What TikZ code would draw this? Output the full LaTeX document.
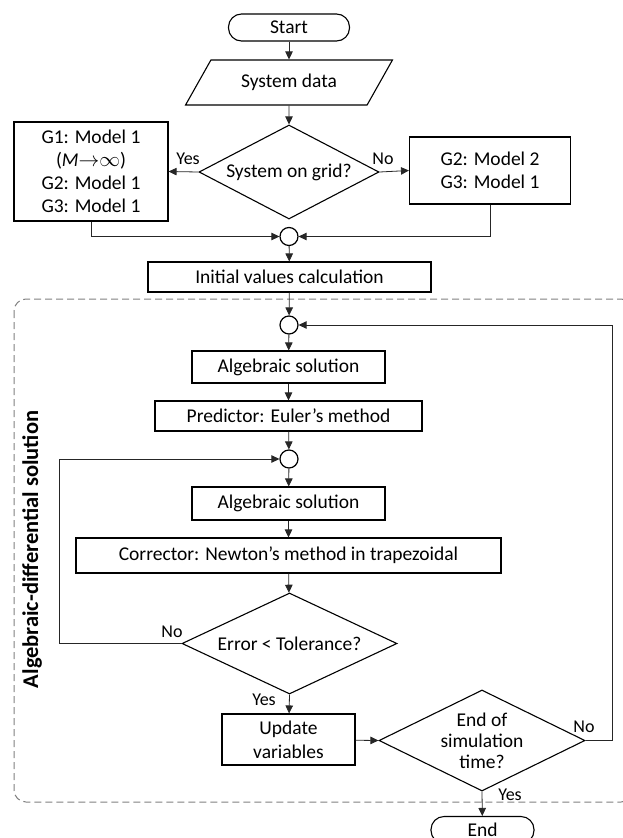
\documentclass[tikz,border=0pt]{standalone}
\usepackage{fontspec}
\setmainfont{Carlito}
\usetikzlibrary{shapes.geometric, arrows.meta, positioning}

\begin{document}
\begin{tikzpicture}[
    x=1pt, y=-1pt,
    font=\fontsize{19.5}{23}\selectfont,
    >={Triangle[length=8pt, width=7.5pt]},
    block/.style = {rectangle, draw=black, line width=1.1pt, fill=white, align=center, inner sep=0pt},
    term/.style = {rectangle, rounded corners=13pt, draw=black, line width=1.1pt, minimum width=121pt, minimum height=27pt, inner sep=0pt},
    iobox/.style = {trapezium, trapezium left angle=47, trapezium right angle=133, trapezium stretches=true, draw=black, line width=1.1pt, minimum width=207pt, minimum height=45pt, inner sep=0pt},
    decision/.style = {diamond, draw=black, line width=1.1pt, align=center, inner sep=0pt, shape aspect=2},
    joint/.style = {circle, draw=black, line width=1.2pt, minimum size=18pt, inner sep=0pt},
    conn/.style = {->, line width=0.8pt, black!85},
    lbl/.style = {font=\fontsize{18}{21}\selectfont, inner sep=0pt}
]
\useasboundingbox (0,0) rectangle (623,838);

% dashed frame of the solver loop
\draw[gray, dash pattern=on 7pt off 4pt, line width=1pt, rounded corners=12pt] (14,299) rectangle (633,802);
\node[font=\fontsize{22.5}{26}\selectfont\bfseries, rotate=90] (adsol) at (32, 549.5) {Algebraic-differential solution};

\node [term] (start) at (289, 27.5) {Start};
\node [iobox] (data) at (289, 82.5) {System data};
\node [decision, minimum width=180pt, minimum height=94pt] (grid) at (289, 172) {System on grid?};

\node [block, minimum width=154pt, minimum height=99pt] (m1) at (91, 171.5) {G1: Model 1\\(\textit{M}$\mathord{\rightarrow}\mathord{\infty}$)\\G2: Model 1\\G3: Model 1};
\node [block, minimum width=161pt, minimum height=67pt] (m2) at (490, 170.5) {G2: Model 2\\G3: Model 1};

\node [joint] (j1) at (289, 236.5) {};
\node [block, minimum width=283pt, minimum height=30pt] (init) at (289.5, 277) {Initial values calculation};

\node [joint] (j2) at (289, 325) {};
\node [block, minimum width=193pt, minimum height=32pt] (alg1) at (288.5, 367) {Algebraic solution};
\node [block, minimum width=267pt, minimum height=30pt] (pred) at (288.5, 416) {Predictor: Euler’s method};

\node [joint] (j3) at (289, 459) {};
\node [block, minimum width=193pt, minimum height=33pt] (alg2) at (288.5, 503.5) {Algebraic solution};
\node [block, minimum width=425pt, minimum height=35pt] (corr) at (288.5, 555.5) {Corrector: Newton’s method in trapezoidal};

\node [decision, minimum width=215pt, minimum height=101pt] (err) at (289.5, 643.5) {Error < Tolerance?};
\node [block, minimum width=133pt, minimum height=51pt, font=\fontsize{19.5}{24}\selectfont] (upd) at (288.5, 739.5) {Update\\variables};
\node [decision, minimum width=206pt, minimum height=101pt, font=\fontsize{19.5}{21}\selectfont] (endsim) at (482, 740.5) {End of\\simulation\\time?};

\node [term, minimum width=103pt] (end) at (482.5, 830) {End};

\coordinate (lft) at (59, 643.5);
\coordinate (rgt) at (612, 740.5);

\node [lbl] (yes1) at (188, 159) {Yes};
\node [lbl] (no1) at (383, 159) {No};
\node [lbl] (no2) at (172, 632) {No};
\node [lbl] (yes2) at (264, 700) {Yes};
\node [lbl] (no3) at (584, 727) {No};
\node [lbl] (yes3) at (510, 795) {Yes};

\draw[conn] (start) -- (data);
\draw[conn] (data) -- (grid);
\draw[conn] (grid.west) -- (m1.east);
\draw[conn] (grid.east) -- (m2.west);
\draw[conn] (m1.south) |- (j1.west);
\draw[conn] (m2.south) |- (j1.east);
\draw[conn] (j1) -- (init);
\draw[conn] (init) -- (j2);
\draw[conn] (j2) -- (alg1);
\draw[conn] (alg1) -- (pred);
\draw[conn] (pred) -- (j3);
\draw[conn] (j3) -- (alg2);
\draw[conn] (alg2) -- (corr);
\draw[conn] (corr) -- (err);
\draw[conn] (err.west) -- (lft) |- (j3.west);
\draw[conn] (err.south) -- (upd);
\draw[conn] (upd) -- (endsim.west);
\draw[conn] (endsim.east) -- (rgt) |- (j2.east);
\draw[conn] (endsim.south) -- (end);

\end{tikzpicture}
\end{document}
